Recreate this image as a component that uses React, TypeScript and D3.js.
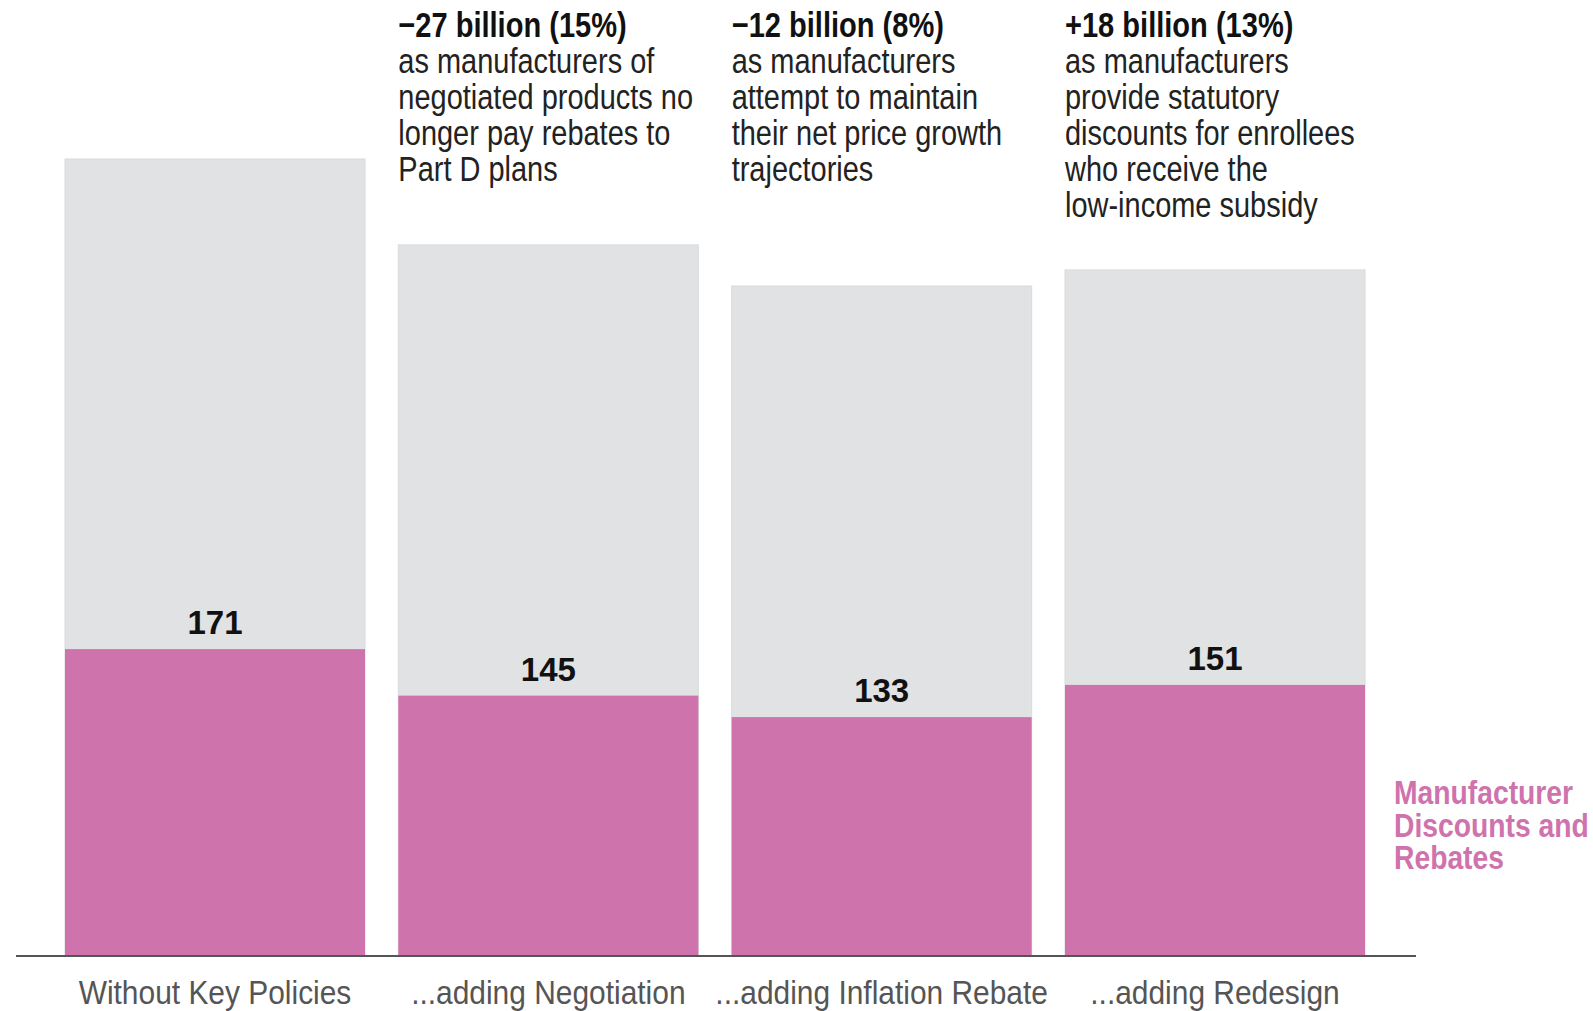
import React from "react";
import * as d3 from "d3";

const categories = [
  "Without Key Policies",
  "...adding Negotiation",
  "...adding Inflation Rebate",
  "...adding Redesign",
];
const discounts = [171, 145, 133, 151];
const totals = [445, 397, 374, 383];

const annotationHeads = ["", "\u221227 billion (15%)", "\u221212 billion (8%)", "+18 billion (13%)"];
const annotationBodies: string[][] = [
  [],
  ["as manufacturers of", "negotiated products no", "longer pay rebates to", "Part D plans"],
  ["as manufacturers", "attempt to maintain", "their net price growth", "trajectories"],
  ["as manufacturers", "provide statutory", "discounts for enrollees", "who receive the", "low-income subsidy"],
];
const legendLines = ["Manufacturer", "Discounts and", "Rebates"];

const W = 1593;
const H = 1011;
const FONT = "'Liberation Sans', Arial, sans-serif";
const PINK = "#cf73ad";
const GRAY = "#e1e2e4";

function NText(props: {
  x: number;
  y: number;
  anchor?: "start" | "middle" | "end";
  size: number;
  sx?: number;
  bold?: boolean;
  fill: string;
  children: React.ReactNode;
}) {
  return (
    <text
      transform={`translate(${props.x},${props.y}) scale(${props.sx ?? 0.83},1)`}
      textAnchor={props.anchor || "start"}
      fontFamily={FONT}
      fontWeight={props.bold ? "bold" : "normal"}
      fontSize={props.size}
      fill={props.fill}
    >
      {props.children}
    </text>
  );
}

export default function App() {
  const x = d3
    .scaleBand<string>()
    .domain(categories)
    .range([65, 1365])
    .paddingInner(0.1)
    .paddingOuter(0);
  const y = d3.scaleLinear().domain([0, 445]).range([955, 159]);
  const bw = x.bandwidth();

  return (
    <svg
      width={W}
      height={H}
      style={{ position: "absolute", left: 0, top: 0, background: "#fff" }}
    >
      {categories.map((c, i) => {
        const x0 = x(c)!;
        return (
          <g key={c}>
            <rect
              x={x0}
              y={y(totals[i])}
              width={bw}
              height={y(0) - y(totals[i])}
              fill={GRAY}
              stroke="#d9dadc"
              strokeWidth={1}
            />
            <rect
              x={x0}
              y={y(discounts[i])}
              width={bw}
              height={y(0) - y(discounts[i])}
              fill={PINK}
            />
            <text
              x={x0 + bw / 2}
              y={y(discounts[i]) - 15}
              textAnchor="middle"
              fontFamily={FONT}
              fontWeight="bold"
              fontSize={33}
              fill="#111"
            >
              {discounts[i]}
            </text>
            <NText x={x0 + bw / 2} y={1004} anchor="middle" size={34} sx={0.88} fill="#555">
              {c}
            </NText>
            {annotationHeads[i] && (
              <NText x={x0} y={37} size={35} bold fill="#111">
                {annotationHeads[i]}
              </NText>
            )}
            {annotationBodies[i].map((line, j) => (
              <NText key={j} x={x0} y={73 + j * 36} size={34.5} sx={0.84} fill="#222">
                {line}
              </NText>
            ))}
          </g>
        );
      })}
      <line x1={16} x2={1416} y1={956} y2={956} stroke="#555" strokeWidth={2} />
      {legendLines.map((l, i) => (
        <NText key={l} x={1394} y={804 + i * 32.5} size={32.5} sx={0.87} bold fill={PINK}>
          {l}
        </NText>
      ))}
    </svg>
  );
}
